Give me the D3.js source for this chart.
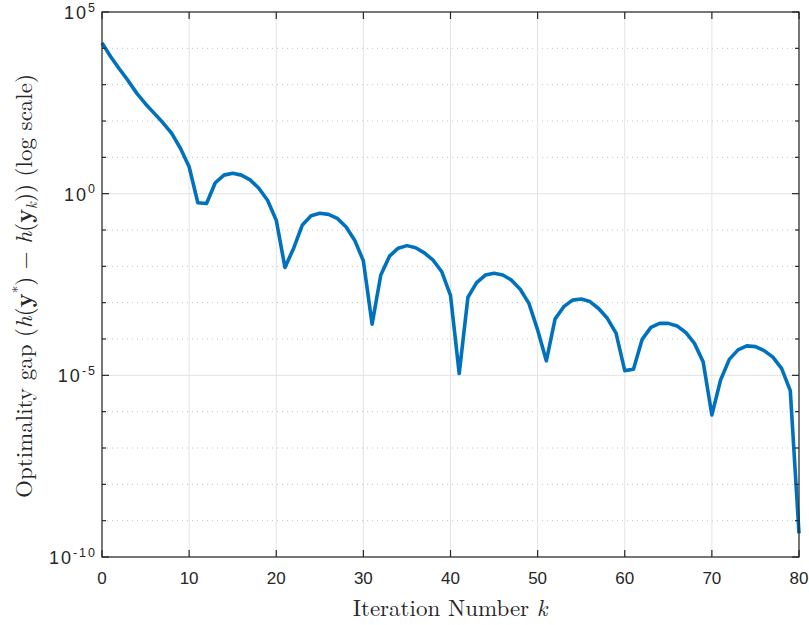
<!DOCTYPE html>
<html><head><meta charset="utf-8">
<script src="https://cdn.jsdelivr.net/npm/d3@7"></script>
<style>body{margin:0;background:#fff}svg{display:block}</style>
</head><body><svg id="c" width="809" height="625"></svg>
<script>
// iteration numbers 0..80
const iterations = d3.range(0, 81);
// log10 of optimality gap
const logGap = [
 4.15,3.77,3.43,3.11,2.76,2.47,2.21,1.95,1.66,1.25,
 0.74,-0.25,-0.27,0.30,0.51,0.56,0.51,0.38,0.15,-0.18,
 -0.73,-2.03,-1.50,-0.86,-0.61,-0.54,-0.57,-0.68,-0.91,-1.28,
 -1.85,-3.59,-2.24,-1.72,-1.50,-1.43,-1.49,-1.63,-1.83,-2.15,
 -2.80,-4.95,-2.85,-2.45,-2.24,-2.19,-2.24,-2.38,-2.63,-3.02,
 -3.75,-4.60,-3.45,-3.11,-2.93,-2.90,-2.97,-3.16,-3.43,-3.84,
 -4.87,-4.83,-4.01,-3.68,-3.57,-3.57,-3.64,-3.82,-4.12,-4.63,
 -6.09,-5.13,-4.56,-4.30,-4.19,-4.21,-4.32,-4.50,-4.81,-5.42,
 -9.35];
const gap = logGap.map(v => Math.pow(10, v));
const xTicks = [0,10,20,30,40,50,60,70,80];
const yTickExponents = [-10,-5,0,5];
const yMinorExponents = d3.range(-10, 6);
const xLabel = "Iteration Number ";
const xLabelVar = "k";

const svg = d3.select("#c");
const L = 102, R = 799, T = 12, B = 557;
const x = d3.scaleLinear().domain([0, 80]).range([L, R]);
const y = d3.scaleLog().domain([1e-10, 1e5]).range([B, T]);

// minor dotted grid
svg.append("g").selectAll("line").data(yMinorExponents.filter(e => !yTickExponents.includes(e)))
  .join("line").attr("x1", L).attr("x2", R)
  .attr("y1", e => y(Math.pow(10, e))).attr("y2", e => y(Math.pow(10, e)))
  .attr("stroke", "#c4c4c4").attr("stroke-width", 1).attr("stroke-dasharray", "1,4");
// major grid
svg.append("g").selectAll("line").data(yTickExponents)
  .join("line").attr("x1", L).attr("x2", R)
  .attr("y1", e => y(Math.pow(10, e))).attr("y2", e => y(Math.pow(10, e)))
  .attr("stroke", "#e3e3e3").attr("stroke-width", 1);
svg.append("g").selectAll("line").data(xTicks)
  .join("line").attr("y1", T).attr("y2", B)
  .attr("x1", d => x(d)).attr("x2", d => x(d))
  .attr("stroke", "#e3e3e3").attr("stroke-width", 1);

// data line
svg.append("path").datum(iterations.map((k, i) => [k, gap[i]]))
  .attr("fill", "none").attr("stroke", "#0072BD").attr("stroke-width", 3.6)
  .attr("stroke-linejoin", "round")
  .attr("d", d3.line().x(d => x(d[0])).y(d => y(d[1])));

// axes box
const ax = svg.append("g").attr("stroke", "#262626").attr("stroke-width", 1.2);
ax.append("rect").attr("x", L).attr("y", T).attr("width", R - L).attr("height", B - T)
  .attr("fill", "none");
// ticks
xTicks.forEach(d => {
  ax.append("line").attr("x1", x(d)).attr("x2", x(d)).attr("y1", B).attr("y2", B - 7);
  ax.append("line").attr("x1", x(d)).attr("x2", x(d)).attr("y1", T).attr("y2", T + 7);
});
yMinorExponents.forEach(e => {
  const len = yTickExponents.includes(e) ? 7 : 4;
  const yy = y(Math.pow(10, e));
  ax.append("line").attr("x1", L).attr("x2", L + len).attr("y1", yy).attr("y2", yy);
  ax.append("line").attr("x1", R).attr("x2", R - len).attr("y1", yy).attr("y2", yy);
});

// x tick labels
svg.append("g").selectAll("text").data(xTicks).join("text")
  .attr("x", d => x(d)).attr("y", 584).attr("text-anchor", "middle")
  .attr("font-family", "Liberation Sans, Arial, sans-serif").attr("font-size", 17)
  .attr("fill", "#262626").text(d => d);

// y tick labels
const yl = svg.append("g").attr("font-family", "Liberation Sans, Arial, sans-serif")
  .attr("fill", "#262626");
yTickExponents.forEach(e => {
  const t = yl.append("text").attr("x", 97).attr("y", y(Math.pow(10, e)) + 7)
    .attr("text-anchor", "end").attr("font-size", 18).attr("letter-spacing", 2);
  t.append("tspan").text("10");
  t.append("tspan").attr("dy", -7.5).attr("font-size", 12.5).text(e);
});

// x label
const xl = svg.append("text").attr("x", 450).attr("y", 616).attr("text-anchor", "middle")
  .attr("font-family", "Latin Modern Roman, CMU Serif, DejaVu Serif, serif").attr("font-size", 23)
  .attr("fill", "#262626");
xl.append("tspan").text(xLabel);
xl.append("tspan").attr("font-style", "italic").text(xLabelVar);

// y label
const ylab = svg.append("text").attr("transform", `translate(32,286) rotate(-90)`)
  .attr("text-anchor", "middle")
  .attr("font-family", "Latin Modern Roman, CMU Serif, DejaVu Serif, serif").attr("font-size", 23)
  .attr("fill", "#262626");
ylab.append("tspan").text("Optimality gap (");
ylab.append("tspan").attr("font-style", "italic").text("h");
ylab.append("tspan").text("(");
ylab.append("tspan").attr("font-weight", "bold").text("y");
ylab.append("tspan").attr("dy", -9).attr("font-size", 15).text("*");
ylab.append("tspan").attr("dy", 9).text(") − ");
ylab.append("tspan").attr("font-style", "italic").text("h");
ylab.append("tspan").text("(");
ylab.append("tspan").attr("font-weight", "bold").text("y");
ylab.append("tspan").attr("dy", 5).attr("font-size", 15).attr("font-style", "italic").text("k");
ylab.append("tspan").attr("dy", -5).text(")) (log scale)");
</script></body></html>
